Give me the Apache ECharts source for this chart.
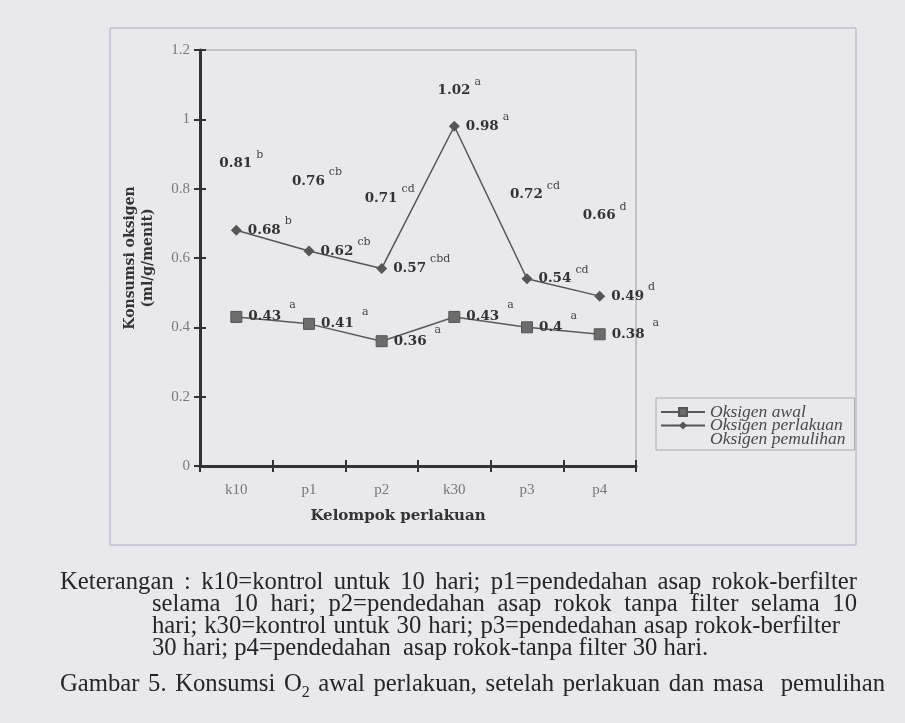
<!DOCTYPE html>
<html>
<head>
<meta charset="utf-8">
<script src="https://cdn.jsdelivr.net/npm/echarts@6/dist/echarts.min.js"></script>
<style>
  html, body { margin: 0; padding: 0; background: #e9e8ed; }
  #chart { position: absolute; left: 0; top: 0; width: 905px; height: 723px; }
  .cap { position: absolute; font-family: "Liberation Serif", serif; font-size: 24.7px; color: #262626; white-space: nowrap; line-height: 22px; }
  .just { text-align: justify; text-align-last: justify; white-space: normal; }
</style>
</head>
<body>
<div id="chart"></div>
<div class="cap just" style="left:60px; top:570px; width:797px;">Keterangan : k10=kontrol untuk 10 hari; p1=pendedahan asap rokok-berfilter</div>
<div class="cap just" style="left:152px; top:592px; width:705px;">selama 10 hari; p2=pendedahan asap rokok tanpa filter selama 10</div>
<div class="cap just" style="left:152px; top:614px; width:688px;">hari; k30=kontrol untuk 30 hari; p3=pendedahan asap rokok-berfilter</div>
<div class="cap" style="left:152px; top:636px;">30 hari; p4=pendedahan&nbsp; asap rokok-tanpa filter 30 hari.</div>
<div class="cap just" style="left:60px; top:672px; width:825px;">Gambar 5. Konsumsi O<sub style="font-size:16px;line-height:0">2</sub> awal perlakuan, setelah perlakuan dan masa&nbsp; pemulihan</div>
<script>
const categories = ['k10', 'p1', 'p2', 'k30', 'p3', 'p4'];
const oksigenAwal = [0.43, 0.41, 0.36, 0.43, 0.40, 0.38];
const oksigenPerlakuan = [0.68, 0.62, 0.57, 0.98, 0.54, 0.49];
const oksigenPemulihan = [0.81, 0.76, 0.71, 1.02, 0.72, 0.66];
const supAwal = ['a', 'a', 'a', 'a', 'a', 'a'];
const supPerlakuan = ['b', 'cb', 'cbd', 'a', 'cd', 'd'];
const supPemulihan = ['b', 'cb', 'cd', 'a', 'cd', 'd'];
const yTicks = ['0', '0.2', '0.4', '0.6', '0.8', '1', '1.2'];

const valFont = 'DejaVu Serif';
const rich = {
  v: { fontFamily: valFont, fontWeight: 'bold', fontSize: 13.5, color: '#333', verticalAlign: 'middle' },
  s: { fontFamily: valFont, fontSize: 11, color: '#444', padding: [0, 0, 18, 4], verticalAlign: 'middle' },
  S: { fontFamily: valFont, fontSize: 11, color: '#444', padding: [0, 0, 23, 8], verticalAlign: 'middle' }
};
function fmtNum(v) { return String(Math.round(v * 100) / 100); }

const chart = echarts.init(document.getElementById('chart'), null, { renderer: 'canvas' });
const option = {
  backgroundColor: 'transparent',
  animation: false,
  graphic: [
    { type: 'rect', shape: { x: 110, y: 28, width: 746, height: 517 }, style: { fill: 'none', stroke: '#aeaabd', lineWidth: 1 }, silent: true, z: -1 }
  ],
  grid: { left: 200, top: 50, right: 269, bottom: 257, show: true, borderColor: '#9c9c9c', borderWidth: 1, backgroundColor: 'transparent' },
  legend: {
    orient: 'vertical', left: 656, top: 398,
    padding: [5, 9, 2, 4], itemGap: -4.5, itemWidth: 44, itemHeight: 10,
    borderColor: '#a8a8a8', borderWidth: 1,
    textStyle: { fontFamily: 'Liberation Serif', fontStyle: 'italic', fontSize: 17.5, color: '#4a4a4a' },
    data: [
      { name: 'Oksigen awal' },
      { name: 'Oksigen perlakuan' },
      { name: 'Oksigen pemulihan', itemStyle: { opacity: 0 }, lineStyle: { opacity: 0 } }
    ]
  },
  xAxis: [
    {
      type: 'category', data: categories, boundaryGap: true,
      axisLine: { lineStyle: { color: '#333', width: 3 } },
      axisTick: { show: true, length: 6, lineStyle: { color: '#333', width: 2 } },
      axisLabel: { fontFamily: 'Liberation Serif', fontSize: 15, color: '#777', margin: 17 },
      name: 'Kelompok perlakuan', nameLocation: 'middle', nameGap: 43,
      nameTextStyle: { fontFamily: valFont, fontWeight: 'bold', fontSize: 15, color: '#333', padding: [0, 40, 0, 0] }
    },
    {
      type: 'category', data: categories, boundaryGap: true, position: 'bottom',
      axisLine: { show: false },
      axisTick: { show: true, inside: true, length: 6, lineStyle: { color: '#333', width: 2 } },
      axisLabel: { show: false }
    }
  ],
  yAxis: [
    {
      type: 'value', min: 0, max: 1.2, interval: 0.2,
      axisLine: { show: true, lineStyle: { color: '#333', width: 3 } },
      axisTick: { show: true, length: 6, lineStyle: { color: '#333', width: 2 } },
      splitLine: { show: false },
      axisLabel: { fontFamily: 'Liberation Serif', fontSize: 15, color: '#7a7a7a', margin: 10,
        formatter: (v) => yTicks[Math.round(v / 0.2)] },
      name: 'Konsumsi oksigen\n(ml/g/menit)', nameLocation: 'middle', nameGap: 43, nameRotate: 90,
      nameTextStyle: { fontFamily: valFont, fontWeight: 'bold', fontSize: 14, color: '#333', lineHeight: 18 }
    },
    {
      type: 'value', min: 0, max: 1.2, interval: 0.2, position: 'left',
      axisLine: { show: false },
      axisTick: { show: true, inside: true, length: 6, lineStyle: { color: '#333', width: 2 } },
      splitLine: { show: false },
      axisLabel: { show: false }
    }
  ],
  series: [
    {
      name: 'Oksigen awal', type: 'line', data: oksigenAwal,
      symbol: 'rect', symbolSize: 11,
      itemStyle: { color: '#6c6c6c', borderColor: '#555', borderWidth: 1 },
      lineStyle: { color: '#595959', width: 1.5 },
      label: { show: true, position: 'right', distance: 6, rich: rich,
        formatter: (p) => '{v|' + fmtNum(p.value) + '}{S|' + supAwal[p.dataIndex] + '}' }
    },
    {
      name: 'Oksigen perlakuan', type: 'line', data: oksigenPerlakuan,
      symbol: 'diamond', symbolSize: 11,
      itemStyle: { color: '#555' },
      lineStyle: { color: '#555', width: 1.5 },
      label: { show: true, position: 'right', distance: 6, rich: rich,
        formatter: (p) => '{v|' + fmtNum(p.value) + '}{s|' + supPerlakuan[p.dataIndex] + '}' }
    },
    {
      name: 'Oksigen pemulihan', type: 'line',
      data: oksigenPemulihan.map((v, i) => ({
        value: v,
        label: { offset: [(supPemulihan[i].length * 6 + 4) / 2, 0] }
      })),
      symbol: 'circle', symbolSize: 2, showSymbol: true,
      lineStyle: { opacity: 0 },
      itemStyle: { color: 'rgba(0,0,0,0)', borderWidth: 0 },
      label: { show: true, position: 'top', distance: 6, rich: rich,
        formatter: (p) => '{v|' + fmtNum(p.value) + '}{s|' + supPemulihan[p.dataIndex] + '}' }
    }
  ]
};
chart.setOption(option);
</script>
</body>
</html>
